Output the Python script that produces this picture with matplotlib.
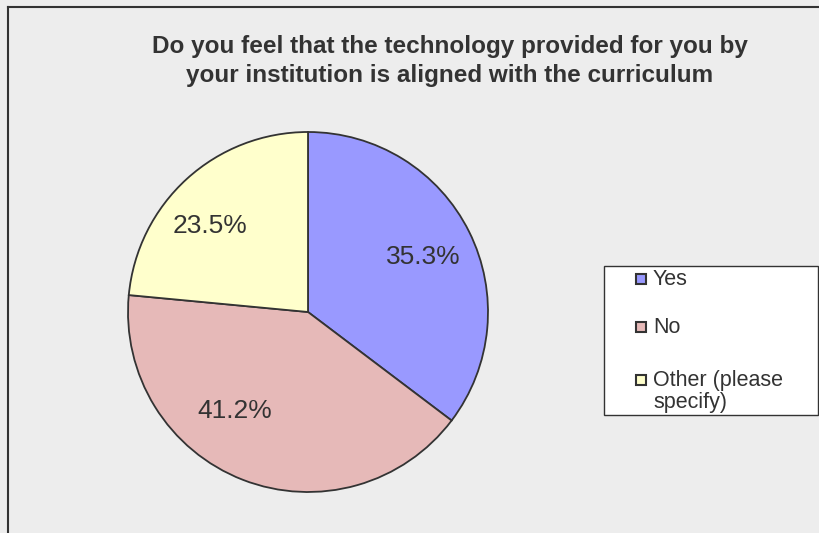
import matplotlib
matplotlib.use("Agg")
import matplotlib.pyplot as plt
from matplotlib.lines import Line2D
from matplotlib.patches import Rectangle

labels = ["Yes", "No", "Other (please\nspecify)"]
shares = [35.3, 41.2, 23.5]
colors = ["#9999FF", "#E6B9B8", "#FFFFCC"]
title = ("Do you feel that the technology provided for you by\n"
         "your institution is aligned with the curriculum")

W, H = 819, 533
plt.rcParams["font.family"] = ["Liberation Sans", "DejaVu Sans"]
fig = plt.figure(figsize=(W / 100, H / 100), dpi=100)
fig.patch.set_facecolor("#EDEDED")
ink = "#333333"


def fx(px):
    return px / W


def fy(py):
    return 1 - py / H


# frame lines along the left and top edges
fig.add_artist(Line2D([fx(8), fx(8)], [0, fy(7)], color=ink, lw=1.5))
fig.add_artist(Line2D([fx(8), 1], [fy(7), fy(7)], color=ink, lw=1.5))

fig.text(fx(450), fy(61), title, ha="center", va="center",
         fontsize=17.5, fontweight="bold", color=ink, linespacing=1.35)

# pie axes: 360 px square centred at (308, 312)
ax = fig.add_axes([fx(128), fy(492), 360 / W, 360 / H])
ax.set_facecolor("none")
wedges, texts, autotexts = ax.pie(
    shares, colors=colors, startangle=90, counterclock=False,
    autopct=lambda p: f"{p:.1f}%", pctdistance=0.70,
    wedgeprops=dict(edgecolor=ink, linewidth=1.3),
    textprops=dict(fontsize=19, color=ink))
ax.set_xlim(-1, 1)
ax.set_ylim(-1, 1)

# percentage labels nudged off the wedge bisectors (in units of the radius)
label_pos = [(0.642, 0.303), (-0.408, -0.55), (-0.544, 0.478)]
for t, p in zip(autotexts, label_pos):
    t.set_position(p)

# legend box, drawn by hand so the swatch sits on the first text line
fig.add_artist(Rectangle((fx(604), fy(415)), fx(818) - fx(604), fy(266) - fy(415),
                         facecolor="white", edgecolor=ink, lw=1.0,
                         transform=fig.transFigure))
row_y = [279, 327, 380]
for lab, col, y in zip(labels, colors, row_y):
    fig.add_artist(Rectangle((fx(636), fy(y + 5)), 10 / W, 10 / H,
                             facecolor=col, edgecolor=ink, lw=1.5,
                             transform=fig.transFigure))
    fig.text(fx(653), fy(y - 10), lab, ha="left", va="top",
             fontsize=15.5, color=ink, linespacing=1.05)

fig.savefig("out.png", dpi=100, facecolor=fig.get_facecolor())
